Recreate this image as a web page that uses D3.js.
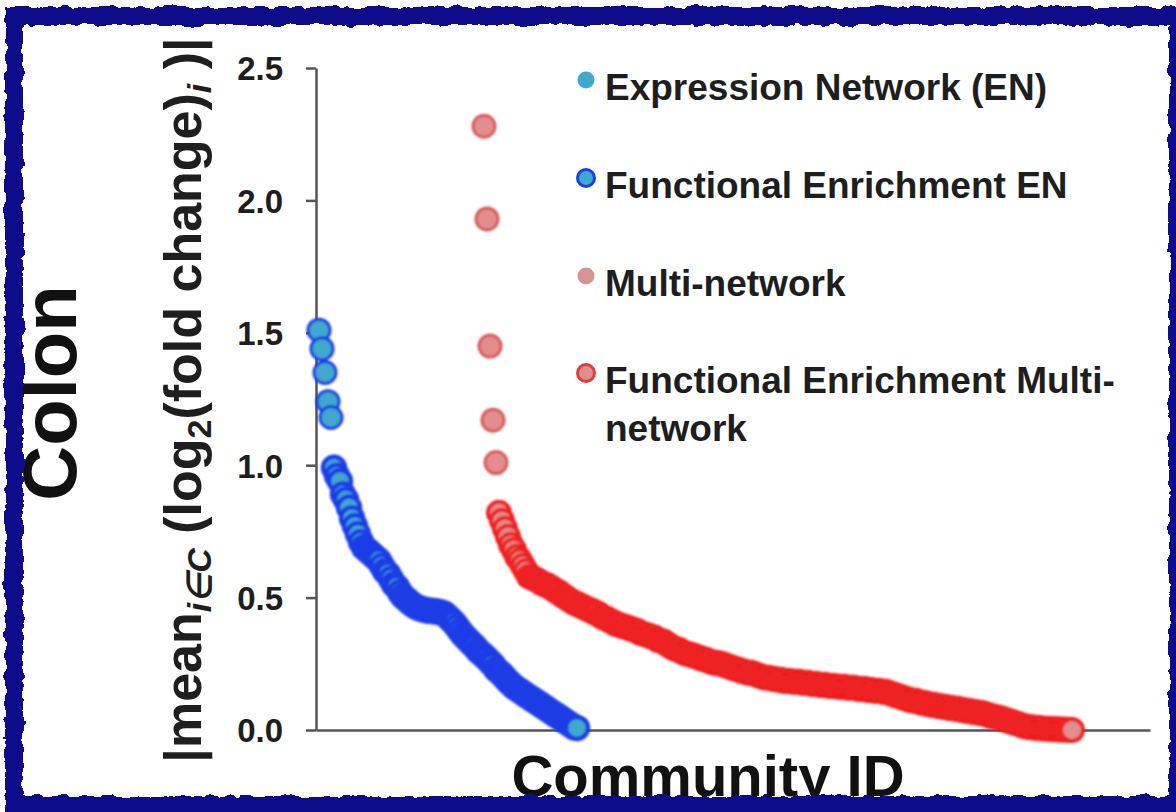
<!DOCTYPE html>
<html>
<head>
<meta charset="utf-8">
<script src="https://cdn.jsdelivr.net/npm/d3@7"></script>
<style>
  html, body { margin: 0; padding: 0; background: #ffffff; }
  svg { display: block; }
  text { font-family: "Liberation Sans", Arial, Helvetica, sans-serif; }
</style>
</head>
<body>
<svg id="chart" width="1176" height="812"></svg>
<script>
// ---------------- data ----------------
const yTicks = [0.0, 0.5, 1.0, 1.5, 2.0, 2.5];

const legendLabels = [
  ["Expression Network (EN)"],
  ["Functional Enrichment EN"],
  ["Multi-network"],
  ["Functional Enrichment Multi-", "network"]
];

// Expression Network communities (sorted), first community ID = 1
const enStartId = 1;
const enValues = [
  1.51, 1.44, 1.35, 1.24, 1.18, 0.99, 0.96, 0.94, 0.89, 0.87,
  0.84, 0.80, 0.77, 0.74, 0.71, 0.69, 0.68, 0.67, 0.66, 0.65,
  0.64, 0.62, 0.60, 0.59, 0.57, 0.55, 0.54, 0.52, 0.505, 0.495,
  0.485, 0.475, 0.468, 0.462, 0.458, 0.455, 0.452, 0.45, 0.449, 0.448,
  0.446, 0.443, 0.438, 0.427, 0.416, 0.405, 0.39, 0.374, 0.36, 0.348,
  0.337, 0.325, 0.314, 0.30, 0.29, 0.28, 0.27, 0.257, 0.246, 0.23,
  0.22, 0.21, 0.197, 0.185, 0.174, 0.163, 0.155, 0.148, 0.14, 0.132,
  0.125, 0.117, 0.11, 0.102, 0.095, 0.087, 0.08, 0.072, 0.064, 0.057,
  0.05, 0.042, 0.034, 0.026, 0.019, 0.011, 0.008
];

// Multi-network communities (sorted), first community ID = 56
const mnStartId = 56;
const mnValues = [
  2.28, 1.93, 1.45, 1.17, 1.01, 0.82, 0.79, 0.76, 0.73, 0.70,
  0.68, 0.655, 0.64, 0.62, 0.60, 0.58, 0.575, 0.57, 0.565, 0.556,
  0.55, 0.548, 0.54, 0.533, 0.525, 0.52, 0.51, 0.503, 0.495, 0.488,
  0.48, 0.477, 0.47, 0.465, 0.46, 0.454, 0.45, 0.443, 0.44, 0.43,
  0.424, 0.42, 0.412, 0.408, 0.40, 0.397, 0.393, 0.39, 0.386, 0.382,
  0.378, 0.375, 0.367, 0.363, 0.36, 0.356, 0.352, 0.348, 0.34, 0.337,
  0.333, 0.325, 0.318, 0.31, 0.306, 0.303, 0.295, 0.29, 0.287, 0.284,
  0.28, 0.276, 0.272, 0.268, 0.265, 0.26, 0.257, 0.253, 0.253, 0.25,
  0.246, 0.242, 0.238, 0.234, 0.23, 0.227, 0.223, 0.22, 0.216, 0.216,
  0.212, 0.208, 0.204, 0.20, 0.197, 0.197, 0.193, 0.193, 0.19, 0.19,
  0.185, 0.185, 0.185, 0.182, 0.182, 0.182, 0.178, 0.178, 0.178, 0.174,
  0.174, 0.174, 0.17, 0.17, 0.17, 0.166, 0.166, 0.166, 0.163, 0.163,
  0.163, 0.16, 0.16, 0.16, 0.158, 0.155, 0.155, 0.155, 0.151, 0.151,
  0.148, 0.148, 0.147, 0.144, 0.144, 0.14, 0.136, 0.132, 0.128, 0.125,
  0.121, 0.117, 0.113, 0.11, 0.11, 0.106, 0.102, 0.102, 0.098, 0.095,
  0.095, 0.091, 0.091, 0.087, 0.087, 0.083, 0.083, 0.08, 0.08, 0.076,
  0.076, 0.072, 0.072, 0.068, 0.068, 0.064, 0.064, 0.06, 0.057, 0.053,
  0.05, 0.048, 0.045, 0.042, 0.038, 0.034, 0.03, 0.026, 0.023, 0.019,
  0.015, 0.012, 0.011, 0.009, 0.008, 0.008, 0.006, 0.005, 0.005, 0.004,
  0.003, 0.003, 0.002, 0.002, 0.001, 0.001, 0.0
];

// ---------------- layout ----------------
const svg = d3.select("#chart");
const W = 1176, H = 812;

const x = d3.scaleLinear().domain([0, 278]).range([316, 1150]);
const y = d3.scaleLinear().domain([0, 2.5]).range([730, 68]);

const C = {
  enFill: "#3fa8cc", enStroke: "#1c3ee6",
  mnFill: "#e38e8e", mnStroke: "#ee2020",
  axis: "#555555", text: "#1e1e1e", border: "#0b0b8c"
};

const defs = svg.append("defs");
const f = defs.append("filter").attr("id", "rough")
  .attr("x", "-5%").attr("y", "-5%").attr("width", "110%").attr("height", "110%");
f.append("feTurbulence").attr("type", "fractalNoise").attr("baseFrequency", "0.09")
  .attr("numOctaves", 3).attr("seed", 4).attr("result", "noise");
f.append("feDisplacementMap").attr("in", "SourceGraphic").attr("in2", "noise")
  .attr("scale", 8).attr("xChannelSelector", "R").attr("yChannelSelector", "G");

const soft = defs.append("filter").attr("id", "soft");
soft.append("feGaussianBlur").attr("stdDeviation", 0.8);

svg.append("rect").attr("width", W).attr("height", H).attr("fill", "#ffffff");

// ---------------- axes ----------------
const yAxis = d3.axisLeft(y).tickValues(yTicks).tickFormat(d3.format(".1f"))
  .tickSize(10).tickSizeOuter(0).tickPadding(23);
const gy = svg.append("g").attr("transform", "translate(316,0)").call(yAxis);
gy.select(".domain").attr("stroke", C.axis).attr("stroke-width", 2.5);
gy.selectAll(".tick line").attr("stroke", C.axis).attr("stroke-width", 2.5);
gy.selectAll(".tick text").attr("fill", C.text).attr("font-size", 33)
  .attr("font-weight", "bold").attr("dy", "0.36em");

const xAxis = d3.axisBottom(x).tickValues([]).tickSizeOuter(0);
const gx = svg.append("g").attr("transform", "translate(0,730)").call(xAxis);
gx.select(".domain").attr("stroke", C.axis).attr("stroke-width", 2.5);

// ---------------- points ----------------
const enData = enValues.map((v, i) => ({ id: enStartId + i, v }));
const mnData = mnValues.map((v, i) => ({ id: mnStartId + i, v }));

svg.append("g").attr("filter", "url(#soft)")
  .selectAll("circle").data(mnData).join("circle")
  .attr("cx", d => x(d.id)).attr("cy", d => y(d.v)).attr("r", 11)
  .attr("fill", C.mnFill).attr("stroke", d => d.v > 0.9 ? "#d95a5a" : C.mnStroke)
  .attr("stroke-width", d => d.v > 0.9 ? 3 : 4);

svg.append("g").attr("filter", "url(#soft)")
  .selectAll("circle").data(enData).join("circle")
  .attr("cx", d => x(d.id)).attr("cy", d => y(d.v)).attr("r", 11)
  .attr("fill", C.enFill).attr("stroke", C.enStroke)
  .attr("stroke-width", d => d.v > 1.1 ? 3 : 4.5);

// ---------------- legend ----------------
const legendMarkers = [
  { fill: C.enFill, stroke: "none" },
  { fill: C.enFill, stroke: C.enStroke },
  { fill: "#d99393", stroke: "none" },
  { fill: C.mnFill, stroke: "#e23c3c" }
];
const legendBase = [100, 198, 296, 393];
const lg = svg.append("g");
legendLabels.forEach((lines, i) => {
  const m = legendMarkers[i];
  lg.append("circle").attr("cx", 586).attr("cy", legendBase[i] - 20).attr("r", 8.5)
    .attr("fill", m.fill).attr("stroke", m.stroke).attr("stroke-width", 3);
  lines.forEach((t, j) => {
    lg.append("text").attr("x", 605).attr("y", legendBase[i] + j * 48)
      .attr("font-size", 37).attr("font-weight", "bold").attr("fill", C.text)
      .text(t);
  });
});

// ---------------- titles ----------------
svg.append("text").attr("transform", "translate(76,393) rotate(-90)")
  .attr("text-anchor", "middle").attr("font-size", 76).attr("font-weight", "bold")
  .attr("fill", "#111").text("Colon");

const yl = svg.append("text").attr("transform", "translate(201,400) rotate(-90)")
  .attr("text-anchor", "middle").attr("font-size", 52).attr("font-weight", "bold")
  .attr("fill", C.text);
yl.append("tspan").text("|mean");
yl.append("tspan").attr("font-size", 34).attr("font-style", "italic").attr("dy", 10).text("i∈C");
yl.append("tspan").attr("dy", -10).text(" (log");
yl.append("tspan").attr("font-size", 34).attr("dy", 10).text("2");
yl.append("tspan").attr("dy", -10).text("(fold change)");
yl.append("tspan").attr("font-size", 34).attr("font-style", "italic").attr("dy", 10).text("i");
yl.append("tspan").attr("dy", -10).text(" )|");

svg.append("text").attr("x", 708).attr("y", 796).attr("text-anchor", "middle")
  .attr("font-size", 58).attr("font-weight", "bold").attr("fill", "#111")
  .text("Community ID");

// ---------------- frame ----------------
svg.append("rect").attr("x", 14).attr("y", 16).attr("width", 1164).attr("height", 789)
  .attr("fill", "none").attr("stroke", C.border).attr("stroke-width", 18)
  .attr("filter", "url(#rough)");
</script>
</body>
</html>
